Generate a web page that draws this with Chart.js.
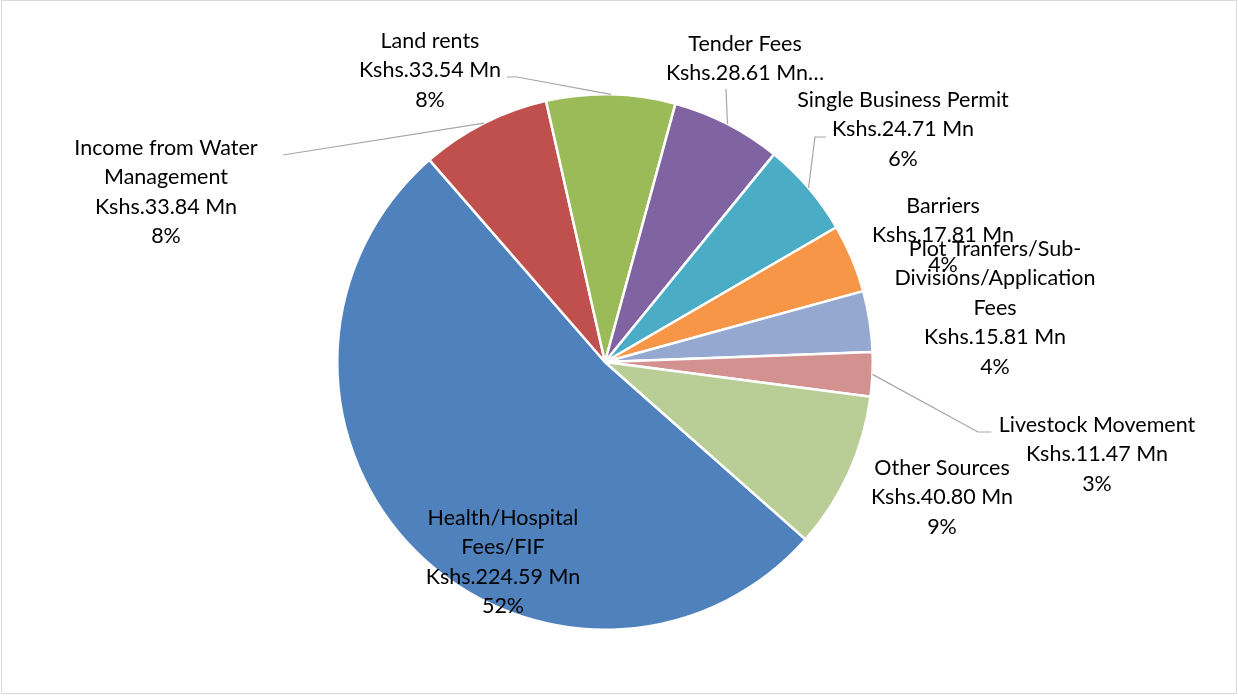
<!DOCTYPE html>
<html>
<head>
<meta charset="utf-8">
<script src="https://cdn.jsdelivr.net/npm/chart.js@4.4.1/dist/chart.umd.min.js"></script>
<style>
  html, body { margin: 0; padding: 0; background: #fff; }
  #wrap { width: 1238px; height: 696px; position: relative; }
</style>
</head>
<body>
<div id="wrap"><canvas id="chartIngresos" width="1238" height="696"></canvas></div>
<script>
// categories (label lines) and values in Kshs. Mn
const categories = [
  ['Health/Hospital', 'Fees/FIF'],
  ['Income from Water', 'Management'],
  ['Land rents'],
  ['Tender Fees'],
  ['Single Business Permit'],
  ['Barriers'],
  ['Plot Tranfers/Sub-', 'Divisions/Application', 'Fees'],
  ['Livestock Movement'],
  ['Other Sources']
];
const values = [224.59, 33.84, 33.54, 28.61, 24.71, 17.81, 15.81, 11.47, 40.80];
const colors = ['#4F81BD', '#C0504D', '#9BBB59', '#8064A2', '#4BACC6', '#F79646', '#95A8CF', '#D39190', '#B9CD96'];
// Excel cut the Tender Fees label short
const truncated = [false, false, false, true, false, false, false, false, false];

// label layout: center x, first line center y, optional leader start/elbow
const labelLayout = [
  { x: 503, y: 518 },
  { x: 166, y: 148, leader: [[283, 155]] },
  { x: 430, y: 41, leader: [[507, 77], [517, 77]] },
  { x: 745, y: 44, leader: [[726, 89]] },
  { x: 903, y: 100, leader: [[826, 137], [815, 137]] },
  { x: 943, y: 206 },
  { x: 995, y: 249 },
  { x: 1097, y: 425, leader: [[991, 432], [978, 432]] },
  { x: 942, y: 468 }
];
const lineH = 29.4;
const fontLabel = '21.5px Lato, "Open Sans", sans-serif';

const total = values.reduce((a, b) => a + b, 0);

const labelsPlugin = {
  id: 'labelsPlugin',
  afterDraw(chart) {
    const ctx = chart.ctx;
    ctx.save();
    // outer frame
    ctx.strokeStyle = '#d9d9d9';
    ctx.lineWidth = 1;
    ctx.strokeRect(1.5, 0.5, 1235, 693);

    const arcs = chart.getDatasetMeta(0).data;
    // leader lines
    ctx.strokeStyle = '#a6a6a6';
    ctx.lineWidth = 1.2;
    labelLayout.forEach((lay, i) => {
      if (!lay.leader) return;
      const a = arcs[i];
      const mid = (a.startAngle + a.endAngle) / 2;
      const ex = a.x + Math.cos(mid) * a.outerRadius;
      const ey = a.y + Math.sin(mid) * a.outerRadius;
      ctx.beginPath();
      ctx.moveTo(lay.leader[0][0], lay.leader[0][1]);
      for (let k = 1; k < lay.leader.length; k++) ctx.lineTo(lay.leader[k][0], lay.leader[k][1]);
      ctx.lineTo(ex, ey);
      ctx.stroke();
    });

    // texts
    ctx.fillStyle = '#000';
    ctx.font = fontLabel;
    ctx.textAlign = 'center';
    ctx.textBaseline = 'middle';
    labelLayout.forEach((lay, i) => {
      const amount = 'Kshs.' + values[i].toFixed(2) + ' Mn';
      const pct = Math.round(values[i] / total * 100) + '%';
      let lines = categories[i].concat(truncated[i] ? [amount + '…'] : [amount, pct]);
      lines.forEach((t, k) => ctx.fillText(t, lay.x, lay.y + k * lineH));
    });
    ctx.restore();
  }
};

const data = {
  labels: categories.map(c => c.join(' ')),
  datasets: [{
    data: values,
    backgroundColor: colors,
    borderColor: '#ffffff',
    borderWidth: 2.5
  }]
};

const config = {
  type: 'pie',
  data: data,
  options: {
    responsive: false,
    animation: false,
    rotation: 131.5,
    layout: {
      padding: { top: 93, bottom: 65, left: 336, right: 364 }
    },
    plugins: {
      legend: { display: false },
      tooltip: { enabled: false },
      title: { display: false }
    }
  },
  plugins: [labelsPlugin]
};

new Chart(document.getElementById('chartIngresos'), config);
</script>
</body>
</html>
